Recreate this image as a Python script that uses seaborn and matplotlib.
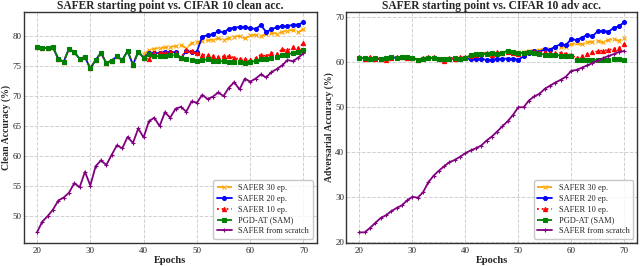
import numpy as np
import pandas as pd
import matplotlib
matplotlib.use("Agg")
import matplotlib.pyplot as plt
import seaborn as sns

epochs = list(range(20, 71))
epochs_30 = list(range(40, 71))

# ---- clean accuracy ----
clean_pgd = [78.2, 78.0, 78.0, 78.1, 76.2, 75.7, 77.9, 77.3, 76.2, 76.5, 74.6, 76.0, 77.2, 75.5, 75.9, 76.6,
             76.0, 77.5, 75.2, 77.4, 76.4, 77.0, 76.7, 76.6, 76.6, 76.8, 76.8, 76.3, 76.1, 76.0, 75.9, 76.0,
             76.1, 75.9, 75.8, 75.8, 75.7, 75.7, 75.6, 75.5, 75.6, 75.9, 76.1, 76.2, 76.4, 76.5, 76.8, 76.9,
             77.2, 77.4, 77.6]
clean_20 = clean_pgd[:20] + [76.4, 77.2, 77.1, 77.2, 77.3, 77.3, 77.3, 76.3, 77.5, 77.3, 77.4,
                             79.9, 80.1, 80.3, 80.8, 80.6, 81.2, 81.4, 81.5, 81.5, 81.3, 81.2, 81.8, 80.7,
                             81.1, 81.5, 81.6, 81.6, 81.9, 81.9, 82.3]
clean_10 = clean_pgd[:20] + [76.4, 76.1, 77.2, 77.1, 77.2, 77.4, 77.2, 76.4, 77.6, 77.5, 77.1, 76.9,
                             76.8, 76.6, 76.5, 76.6, 76.6, 76.4, 76.1, 76.1, 76.0, 76.3, 76.9, 76.6, 77.2,
                             77.0, 77.8, 77.6, 78.1, 78.0, 78.8]
clean_30 = [77.0, 77.6, 77.9, 78.0, 78.1, 78.2, 78.3, 78.5, 78.0, 78.8, 79.0, 79.1, 79.3, 79.4, 79.6, 79.3,
            79.7, 79.9, 80.0, 79.6, 80.1, 80.2, 80.0, 80.3, 80.5, 80.4, 80.7, 80.9, 81.0, 80.6, 81.2]
clean_scratch = [47.3, 49.1, 50.0, 51.1, 52.6, 53.1, 53.9, 55.5, 54.8, 57.4, 55.1, 58.3, 59.3, 58.5, 60.2,
                 61.8, 61.3, 63.2, 62.2, 64.6, 63.1, 65.8, 66.4, 65.0, 67.3, 66.4, 67.9, 68.2, 67.4, 69.1,
                 68.9, 70.2, 69.5, 69.9, 70.6, 70.0, 71.4, 72.3, 71.1, 72.9, 72.4, 72.9, 73.6, 73.1, 74.0,
                 74.5, 75.1, 76.0, 75.8, 76.4, 77.1]

# ---- adversarial accuracy ----
adv_pgd = [61.0, 60.9, 60.8, 60.9, 60.7, 60.9, 61.1, 61.0, 61.2, 61.1, 61.0, 60.6, 60.7, 61.0, 60.9, 60.8,
           60.8, 60.7, 60.9, 60.8, 60.9, 61.6, 61.8, 61.8, 61.9, 62.0, 61.8, 62.1, 62.6, 62.2, 62.0, 62.1,
           62.2, 62.0, 61.9, 61.7, 61.6, 61.6, 61.5, 61.5, 61.4, 60.4, 60.6, 60.6, 60.5, 60.5, 60.6, 60.6,
           60.7, 60.7, 60.4]
adv_10 = [61.2, 60.8, 61.1, 60.8, 60.8, 60.6, 61.0, 61.2, 61.1, 60.9, 61.0, 60.5, 60.9, 61.1, 61.1, 60.7,
          60.2, 60.9, 60.8, 61.1, 61.1, 61.3, 61.6, 61.9, 62.1, 61.7, 62.2, 62.0, 62.3, 62.0, 61.9, 62.1,
          62.3, 62.2, 62.3, 62.2, 62.0, 62.0, 62.1, 61.9, 61.6, 60.9, 61.3, 61.8, 62.2, 62.4, 62.6, 62.7,
          63.0, 63.2, 64.0]
adv_20 = adv_pgd[:21] + [60.7, 60.8, 60.8, 60.5, 60.6, 60.7, 60.8, 60.8, 60.8, 60.6, 61.3, 62.0, 62.4,
                         62.3, 62.9, 62.8, 63.5, 64.0, 63.8, 65.2, 64.9, 65.5, 66.1, 65.8, 66.9, 67.0,
                         66.8, 67.6, 68.0, 68.9]
adv_30 = [60.9, 61.5, 61.7, 61.8, 61.9, 61.9, 61.9, 62.0, 62.3, 62.1, 62.1, 62.3, 62.5, 62.6, 62.8, 63.0,
          63.0, 63.2, 63.3, 63.5, 64.0, 64.2, 64.0, 64.4, 64.6, 64.8, 64.4, 65.0, 65.1, 64.8, 65.5]
adv_scratch = [22.2, 22.2, 23.2, 24.3, 25.4, 26.0, 26.9, 27.6, 28.2, 29.3, 30.1, 29.9, 31.1, 33.3, 34.8,
               35.9, 36.9, 37.8, 38.3, 39.0, 39.8, 40.4, 40.9, 41.5, 42.6, 43.5, 44.6, 45.8, 46.9, 48.3,
               50.0, 50.0, 51.5, 52.4, 53.0, 54.1, 54.8, 55.5, 56.1, 56.8, 58.1, 58.3, 58.8, 59.3, 59.8,
               60.4, 60.9, 61.4, 61.8, 62.3, 62.5]

labels = ["SAFER 30 ep.", "SAFER 20 ep.", "SAFER 10 ep.", "PGD-AT (SAM)", "SAFER from scratch"]

sns.set_theme(style="whitegrid")
plt.rcParams["font.family"] = ["Liberation Serif", "DejaVu Serif"]
plt.rcParams["axes.edgecolor"] = "#333333"
plt.rcParams["axes.linewidth"] = 1.0
plt.rcParams["grid.linestyle"] = "--"
plt.rcParams["grid.color"] = "#d0d0d0"
plt.rcParams["grid.linewidth"] = 0.7

fig = plt.figure(figsize=(6.4, 2.66), dpi=100)
ax1 = fig.add_axes([0.037, 0.087, 0.458, 0.869])
ax2 = fig.add_axes([0.541, 0.087, 0.455, 0.869])

styles = [
    dict(color="orange", marker="x", linestyle="--", markersize=2.5),
    dict(color="blue", marker="o", linestyle="-", markersize=2.8),
    dict(color="red", marker="^", linestyle=":", markersize=3.0),
    dict(color="green", marker="s", linestyle="--", markersize=3.0),
    dict(color="purple", marker="+", linestyle="-", markersize=3.5),
]

def draw(ax, series, title, ylabel):
    for (xs, ys), lab, st in zip(series, labels, styles):
        sns.lineplot(x=xs, y=ys, ax=ax, label=lab, linewidth=1.3, markeredgewidth=0.8,
                     markeredgecolor=st["color"], **st)
    ax.set_title(title, fontsize=8.3, fontweight="bold", pad=2)
    ax.set_xlabel("Epochs", fontsize=7.5, fontweight="bold", labelpad=1)
    ax.set_ylabel(ylabel, fontsize=7, fontweight="bold", labelpad=1)
    ax.tick_params(axis="both", labelsize=6.5, pad=1.5, length=0)
    ax.tick_params(axis="x", pad=3)
    ax.set_xticks([20, 30, 40, 50, 60, 70])
    for s in ax.spines.values():
        s.set_visible(True)
    leg = ax.legend(loc="lower right", fontsize=6, frameon=True, handlelength=1.8,
                    borderpad=0.4, labelspacing=0.35, handletextpad=0.8)
    leg.get_frame().set_edgecolor("#bbbbbb")

draw(ax1, [(epochs_30, clean_30), (epochs, clean_20), (epochs, clean_10), (epochs, clean_pgd),
           (epochs, clean_scratch)],
     "SAFER starting point vs. CIFAR 10 clean acc.", "Clean Accuracy (%)")
draw(ax2, [(epochs_30, adv_30), (epochs, adv_20), (epochs, adv_10), (epochs, adv_pgd),
           (epochs, adv_scratch)],
     "SAFER starting point vs. CIFAR 10 adv acc.", "Adversarial Accuracy (%)")
ax2.set_yticks([20, 30, 40, 50, 60, 70])

fig.savefig("out.png", dpi=100)
